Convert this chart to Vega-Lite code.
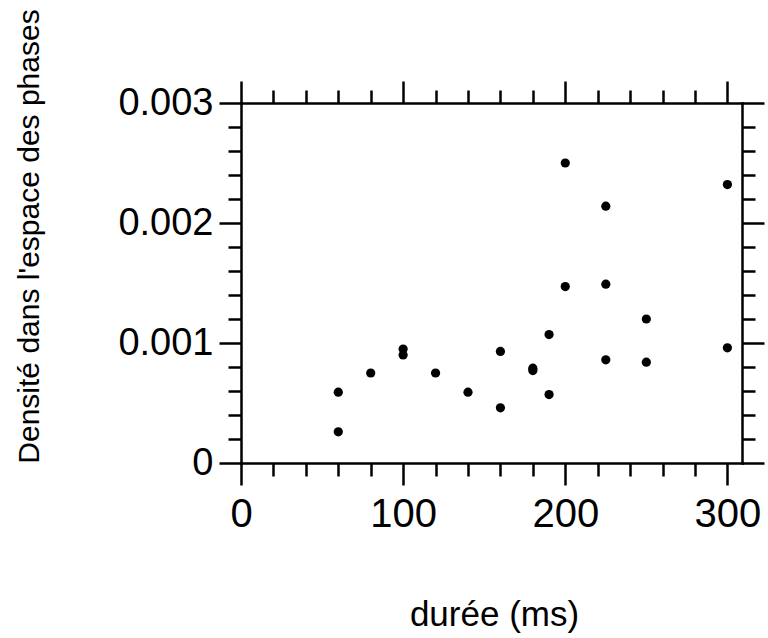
{
  "$schema": "https://vega.github.io/schema/vega-lite/v6.json",
  "width": 501,
  "height": 360,
  "autosize": {"type": "none"},
  "padding": {"left": 241, "top": 103, "right": 26, "bottom": 175},
  "background": "white",
  "config": {
    "view": {"stroke": null},
    "axis": {
      "grid": false,
      "domainColor": "black",
      "domainWidth": 2.5,
      "domainCap": "square",
      "tickColor": "black",
      "tickWidth": 2.5,
      "labelColor": "black",
      "titleColor": "black",
      "labelFont": "Liberation Sans",
      "titleFont": "Liberation Sans",
      "titleFontWeight": "normal",
      "labelFlush": false,
      "labelOverlap": false
    }
  },
  "data": {
    "values": [
      {"duree": 60, "densite": 0.00059},
      {"duree": 60, "densite": 0.00026},
      {"duree": 80, "densite": 0.00075},
      {"duree": 100, "densite": 0.00095},
      {"duree": 100, "densite": 0.0009},
      {"duree": 120, "densite": 0.00075},
      {"duree": 140, "densite": 0.00059},
      {"duree": 160, "densite": 0.00093},
      {"duree": 160, "densite": 0.00046},
      {"duree": 180, "densite": 0.00079},
      {"duree": 180, "densite": 0.00077},
      {"duree": 190, "densite": 0.00107},
      {"duree": 190, "densite": 0.00057},
      {"duree": 200, "densite": 0.0025},
      {"duree": 200, "densite": 0.00147},
      {"duree": 225, "densite": 0.00214},
      {"duree": 225, "densite": 0.00149},
      {"duree": 225, "densite": 0.00086},
      {"duree": 250, "densite": 0.0012},
      {"duree": 250, "densite": 0.00084},
      {"duree": 300, "densite": 0.00232},
      {"duree": 300, "densite": 0.00096}
    ]
  },
  "resolve": {"axis": {"x": "independent", "y": "independent"}},
  "layer": [
    {
      "mark": {"type": "circle", "color": "black", "size": 85, "opacity": 1},
      "encoding": {
        "x": {
          "field": "duree", "type": "quantitative",
          "scale": {"domain": [0, 309], "nice": false, "zero": false},
          "axis": {
            "orient": "bottom", "values": [0, 100, 200, 300], "format": "d",
            "tickSize": 22, "labelFontSize": 40, "labelPadding": 9,
            "title": "durée (ms)", "titleFontSize": 35,
            "titleX": 253, "titleY": 162, "titleAlign": "center", "titleBaseline": "alphabetic"
          }
        },
        "y": {
          "field": "densite", "type": "quantitative",
          "scale": {"domain": [0, 0.003], "nice": false},
          "axis": {
            "orient": "left", "values": [0, 0.001, 0.002, 0.003], "format": ".3~f",
            "tickSize": 22, "labelFontSize": 38, "labelPadding": 6,
            "title": "Densité dans l'espace des phases", "titleFontSize": 30,
            "titleX": -212, "titleY": 133, "titleAlign": "center", "titleBaseline": "middle", "titleAngle": -90
          }
        }
      }
    },
    {
      "mark": {"type": "point", "opacity": 0},
      "encoding": {
        "x": {
          "field": "duree", "type": "quantitative",
          "scale": {"domain": [0, 309], "nice": false, "zero": false},
          "axis": {"orient": "bottom", "values": [20, 40, 60, 80, 120, 140, 160, 180, 220, 240, 260, 280], "tickSize": 13, "labels": false, "domain": false, "title": null}
        },
        "y": {
          "field": "densite", "type": "quantitative",
          "scale": {"domain": [0, 0.003], "nice": false},
          "axis": {"orient": "left", "values": [0.0002, 0.0004, 0.0006, 0.0008, 0.0012, 0.0014, 0.0016, 0.0018, 0.0022, 0.0024, 0.0026, 0.0028], "tickSize": 13, "labels": false, "domain": false, "title": null}
        }
      }
    },
    {
      "mark": {"type": "point", "opacity": 0},
      "encoding": {
        "x": {
          "field": "duree", "type": "quantitative",
          "scale": {"domain": [0, 309], "nice": false, "zero": false},
          "axis": {"orient": "top", "values": [0, 100, 200, 300], "tickSize": 22, "labels": false, "title": null}
        },
        "y": {
          "field": "densite", "type": "quantitative",
          "scale": {"domain": [0, 0.003], "nice": false},
          "axis": {"orient": "right", "values": [0, 0.001, 0.002, 0.003], "tickSize": 22, "labels": false, "title": null}
        }
      }
    },
    {
      "mark": {"type": "point", "opacity": 0},
      "encoding": {
        "x": {
          "field": "duree", "type": "quantitative",
          "scale": {"domain": [0, 309], "nice": false, "zero": false},
          "axis": {"orient": "top", "values": [20, 40, 60, 80, 120, 140, 160, 180, 220, 240, 260, 280], "tickSize": 13, "labels": false, "domain": false, "title": null}
        },
        "y": {
          "field": "densite", "type": "quantitative",
          "scale": {"domain": [0, 0.003], "nice": false},
          "axis": {"orient": "right", "values": [0.0002, 0.0004, 0.0006, 0.0008, 0.0012, 0.0014, 0.0016, 0.0018, 0.0022, 0.0024, 0.0026, 0.0028], "tickSize": 13, "labels": false, "domain": false, "title": null}
        }
      }
    }
  ]
}
